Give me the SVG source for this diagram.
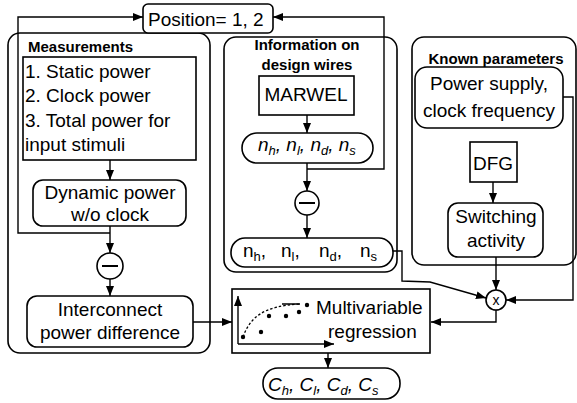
<svg xmlns="http://www.w3.org/2000/svg" width="577" height="403" viewBox="0 0 577 403">
<style>
text{font-family:"Liberation Sans",Arial,sans-serif;font-size:19px;fill:#000}
.t{font-weight:bold;font-size:15px}
.c{text-anchor:middle}
.i{font-style:italic}
.s{font-size:13px}
.box{fill:#fff;stroke:#000;stroke-width:1.6}
.grp{fill:none;stroke:#000;stroke-width:1.6}
.ln{fill:none;stroke:#000;stroke-width:1.4}
</style>
<defs>
<marker id="a" markerUnits="userSpaceOnUse" markerWidth="10" markerHeight="10" viewBox="0 0 10 10" refX="10" refY="5" orient="auto">
<path d="M0,1 L10,5 L0,9 z" fill="#000"/>
</marker>
</defs>
<rect width="577" height="403" fill="#fff"/>
<g id="groups">
<rect id="measurements" class="grp" x="8" y="33" width="202" height="320" rx="12"/>
<rect id="info" class="grp" x="224" y="37" width="173" height="235" rx="12"/>
<rect id="known" class="grp" x="412" y="37" width="164" height="228" rx="12"/>
<text class="t" x="28" y="52">Measurements</text>
<text class="t c" x="307" y="50">Information on</text>
<text class="t c" x="307" y="70">design wires</text>
<text class="t c" x="496" y="64">Known parameters</text>
</g>
<g id="connectors">
<line class="ln" x1="110" y1="160" x2="110" y2="180" marker-end="url(#a)"/>
<line class="ln" x1="110" y1="226" x2="110" y2="253" marker-end="url(#a)"/>
<polyline class="ln" points="110,233 18,233 18,17 143,17" marker-end="url(#a)"/>
<line class="ln" x1="110" y1="279" x2="110" y2="296" marker-end="url(#a)"/>
<line class="ln" x1="193" y1="322" x2="232" y2="322" marker-end="url(#a)"/>
<line class="ln" x1="307" y1="115" x2="307" y2="133" marker-end="url(#a)"/>
<line class="ln" x1="307" y1="163" x2="307" y2="191" marker-end="url(#a)"/>
<polyline class="ln" points="307,169 384,169 384,17 273,17" marker-end="url(#a)"/>
<line class="ln" x1="307" y1="215" x2="307" y2="238" marker-end="url(#a)"/>
<polyline class="ln" points="393,251 402,251 402,281 430,282 486,298" marker-end="url(#a)"/>
<line class="ln" x1="493" y1="182" x2="493" y2="203" marker-end="url(#a)"/>
<line class="ln" x1="496" y1="257" x2="496" y2="290" marker-end="url(#a)"/>
<polyline class="ln" points="563,97 573,97 573,300 506,300" marker-end="url(#a)"/>
<polyline class="ln" points="496,310 496,322 431,322" marker-end="url(#a)"/>
<line class="ln" x1="328" y1="344" x2="328" y2="368" marker-end="url(#a)"/>
</g>
<g id="position">
<rect class="box" x="143" y="4" width="130" height="29" rx="5"/>
<text x="148" y="26">Position= 1, 2</text>
</g>
<g id="list">
<rect class="box" x="23" y="57" width="173" height="103"/>
<text x="25" y="78">1. Static power</text>
<text x="25" y="102">2. Clock power</text>
<text x="25" y="127">3. Total power for</text>
<text x="25" y="151">input stimuli</text>
</g>
<g id="dynamic">
<rect class="box" x="33" y="180" width="153" height="46" rx="10"/>
<text class="c" x="110" y="199">Dynamic power</text>
<text class="c" x="110" y="221">w/o clock</text>
</g>
<g id="minus1">
<circle class="box" cx="110" cy="266" r="13"/>
<line x1="102" y1="266" x2="118" y2="266" stroke="#000" stroke-width="2"/>
</g>
<g id="interconnect">
<rect class="box" x="27" y="296" width="166" height="51" rx="10"/>
<text class="c" x="110" y="316">Interconnect</text>
<text class="c" x="110" y="339">power difference</text>
</g>
<g id="marwel">
<rect class="box" x="259" y="76" width="95" height="39"/>
<text class="c" x="306" y="101">MARWEL</text>
</g>
<g id="nitalic">
<rect class="box" x="242" y="133" width="131" height="30" rx="15"/>
<text class="i" x="258" y="151">n<tspan class="s" dy="4">h</tspan><tspan dy="-4">, n</tspan><tspan class="s" dy="4">l</tspan><tspan dy="-4">, n</tspan><tspan class="s" dy="4">d</tspan><tspan dy="-4">, n</tspan><tspan class="s" dy="4">s</tspan></text>
</g>
<g id="minus2">
<circle class="box" cx="307" cy="203" r="12"/>
<line x1="299" y1="203" x2="315" y2="203" stroke="#000" stroke-width="2"/>
</g>
<g id="nplain">
<rect class="box" x="231" y="238" width="162" height="29" rx="14"/>
<text x="243" y="257">n<tspan class="s" dy="4">h</tspan><tspan dy="-4">,</tspan></text>
<text x="281" y="257">n<tspan class="s" dy="4">l</tspan><tspan dy="-4">,</tspan></text>
<text x="319" y="257">n<tspan class="s" dy="4">d</tspan><tspan dy="-4">,</tspan></text>
<text x="360" y="257">n<tspan class="s" dy="4">s</tspan></text>
</g>
<g id="power">
<rect class="box" x="415" y="67" width="148" height="61" rx="12"/>
<text class="c" x="489" y="90">Power supply,</text>
<text class="c" x="489" y="117">clock frequency</text>
</g>
<g id="dfg">
<rect class="box" x="470" y="142" width="47" height="40"/>
<text class="c" x="493" y="170">DFG</text>
</g>
<g id="switching">
<rect class="box" x="448" y="203" width="95" height="54" rx="10"/>
<text class="c" x="496" y="223">Switching</text>
<text class="c" x="496" y="247">activity</text>
</g>
<g id="mult">
<circle class="box" cx="496" cy="300" r="10"/>
<text class="c" x="496" y="305" style="font-size:14px">x</text>
</g>
<g id="regression">
<rect class="box" x="232" y="289" width="198" height="64" stroke-width="2"/>
<line class="ln" x1="238" y1="344" x2="238" y2="296" marker-end="url(#a)"/>
<line class="ln" x1="238" y1="344" x2="334" y2="344" marker-end="url(#a)"/>
<path d="M243,337 C250,318 262,306 300,304" fill="none" stroke="#000" stroke-width="1.3" stroke-dasharray="2.5,2"/>
<line x1="282" y1="304" x2="300" y2="304" stroke="#000" stroke-width="1.5"/>
<g fill="#000">
<circle cx="243" cy="337" r="2.2"/>
<circle cx="261" cy="332" r="2.2"/>
<circle cx="269" cy="316" r="2.2"/>
<circle cx="286" cy="316" r="2.2"/>
<circle cx="299" cy="312" r="2.2"/>
<circle cx="307" cy="305" r="2.2"/>
</g>
<text x="316" y="314">Multivariable</text>
<text x="328" y="338">regression</text>
</g>
<g id="coeffs">
<rect class="box" x="263" y="368" width="137" height="31" rx="15"/>
<text class="i" x="268" y="391">C<tspan class="s" dy="4">h</tspan><tspan dy="-4">, C</tspan><tspan class="s" dy="4">l</tspan><tspan dy="-4">, C</tspan><tspan class="s" dy="4">d</tspan><tspan dy="-4">, C</tspan><tspan class="s" dy="4">s</tspan></text>
</g>
</svg>
